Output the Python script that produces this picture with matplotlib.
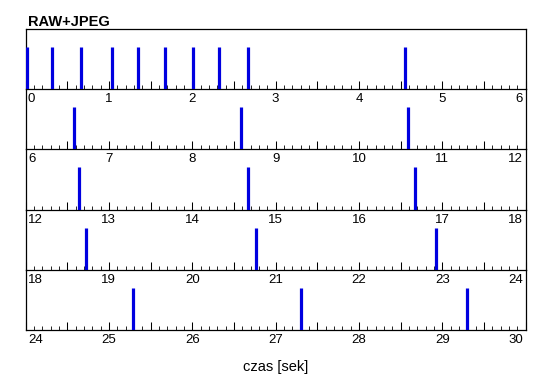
import matplotlib
matplotlib.use("Agg")
import matplotlib.pyplot as plt
from matplotlib.ticker import MultipleLocator, NullFormatter
from matplotlib.transforms import ScaledTranslation

plt.rcParams['font.family'] = ['Liberation Sans', 'DejaVu Sans']

# event times [s]
czasy = [0.012, 0.314, 0.663, 1.034, 1.353, 1.673, 2.005, 2.321, 2.673, 4.552,
         6.58, 8.59, 10.59,
         12.64, 14.67, 16.67,
         18.72, 20.76, 22.93,
         25.29, 27.30, 29.30]
wysokosc = [1] * len(czasy)
# start of each 6-second row
poczatki = [0, 6, 12, 18, 24]
dlugosc = 6

W, H = 550, 389
fig = plt.figure(figsize=(W / 100, H / 100), dpi=100)

left_px, right_px = 25.5, 525.7
top_px, row_px = 29, 60.2

for i, t0 in enumerate(poczatki):
    top = top_px + i * row_px
    ax = fig.add_axes([left_px / W, 1 - (top + row_px) / H,
                       (right_px - left_px) / W, row_px / H])
    t = [c for c in czasy if t0 <= c <= t0 + dlugosc]
    h = [wysokosc[k] for k, c in enumerate(czasy) if t0 <= c <= t0 + dlugosc]
    ax.vlines(t, 0, h, color='#0000e0', linewidth=2.3, zorder=3)
    ax.set_xlim(t0, t0 + dlugosc)
    ax.set_ylim(0, 1 / 0.7)
    ax.set_yticks([])
    ax.xaxis.set_major_locator(MultipleLocator(0.5))
    ax.xaxis.set_minor_locator(MultipleLocator(0.1))
    ax.xaxis.set_major_formatter(NullFormatter())
    ax.tick_params(axis='x', which='major', direction='in', length=5.8,
                   width=0.75)
    ax.tick_params(axis='x', which='minor', direction='in', length=2.9,
                   width=0.6)
    for s in ax.spines.values():
        s.set_linewidth(0.9)
    if i > 0:
        ax.spines['top'].set_visible(False)
    ax.patch.set_alpha(0)

    # tick labels, edge ones kept inside the frame as in the original
    for v in range(t0, t0 + dlugosc + 1):
        if v == t0:
            ha, dx = 'left', 2.5
        elif v == t0 + dlugosc:
            ha, dx = 'right', -2.5
        else:
            ha, dx = 'center', 0
        tr = ax.get_xaxis_transform() + ScaledTranslation(dx / 100, -4 / 100,
                                                          fig.dpi_scale_trans)
        ax.text(v, 0, str(v), transform=tr, ha=ha, va='top', fontsize=9.5)

fig.text(28 / W, 1 - 26 / H, 'RAW+JPEG', fontsize=10.5, fontweight='bold',
         ha='left', va='baseline')
fig.text(276 / W, 1 - 371 / H, 'czas [sek]', fontsize=10.5,
         ha='center', va='baseline')

fig.savefig('out.png', dpi=100)
